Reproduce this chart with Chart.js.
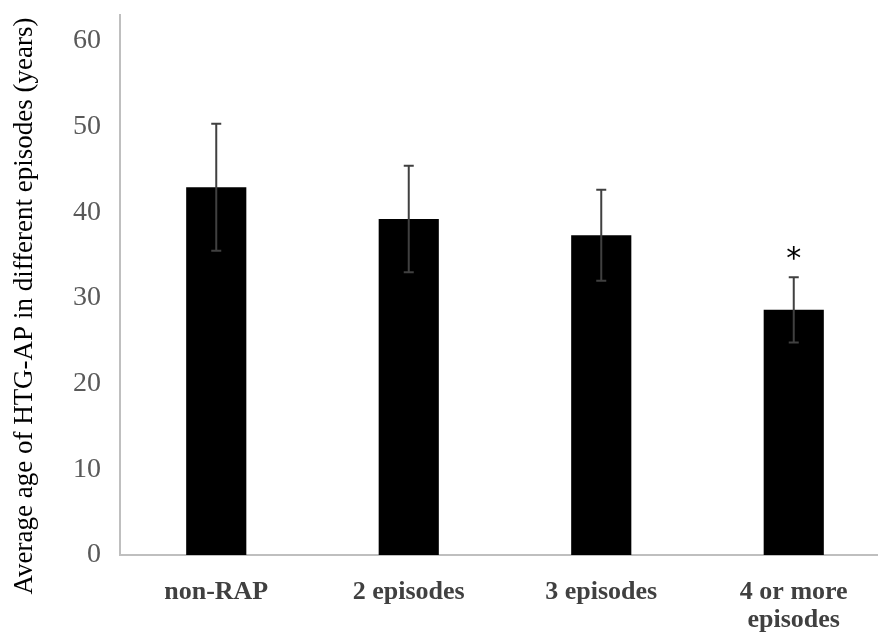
<!DOCTYPE html>
<html lang="en">
<head>
    <meta charset="UTF-8">
    <title>Average age of HTG-AP</title>
    <style>
        html, body {
            margin: 0;
            padding: 0;
            background: #fff;
            overflow: hidden;
        }
        .chart-container {
            position: relative;
            width: 890px;
            height: 633px;
        }
    </style>
    <script src="https://cdn.jsdelivr.net/npm/chart.js"></script>
</head>
<body>
    <div class="chart-container">
        <canvas id="ageChart"></canvas>
    </div>
    <script>
        const categories = ["non-RAP", "2 episodes", "3 episodes", ["4 or more", "episodes"]];
        const meanAge = [42.9, 39.2, 37.3, 28.6];
        const sdAge = [7.4, 6.2, 5.3, 3.8];
        const marks = ["", "", "", "*"];
        const yTicks = [0, 10, 20, 30, 40, 50, 60];
        const yTitle = "Average age of HTG-AP in different episodes (years)";

        const AXIS_COLOR = "#bfbfbf";
        const TEXT_COLOR = "#595959";

        // error bars + significance mark drawn on top of the bars
        const errorBars = {
            id: "errorBars",
            afterDatasetsDraw(chart) {
                const { ctx, scales } = chart;
                const meta = chart.getDatasetMeta(0);
                ctx.save();
                ctx.strokeStyle = "#404040";
                ctx.lineWidth = 2;
                meta.data.forEach((bar, i) => {
                    const x = bar.x;
                    const top = scales.y.getPixelForValue(meanAge[i] + sdAge[i]);
                    const bottom = scales.y.getPixelForValue(meanAge[i] - sdAge[i]);
                    ctx.beginPath();
                    ctx.moveTo(x, top);
                    ctx.lineTo(x, bottom);
                    ctx.moveTo(x - 5, top);
                    ctx.lineTo(x + 5, top);
                    ctx.moveTo(x - 5, bottom);
                    ctx.lineTo(x + 5, bottom);
                    ctx.stroke();
                    if (marks[i]) {
                        ctx.fillStyle = "#000";
                        ctx.font = "30px 'DejaVu Sans'";
                        ctx.textAlign = "center";
                        ctx.textBaseline = "middle";
                        ctx.fillText(marks[i], x, top - 17);
                    }
                });
                ctx.restore();
            }
        };

        // y title sits a little lower than the plot centre in the original
        const yAxisTitle = {
            id: "yAxisTitle",
            afterDraw(chart) {
                const { ctx } = chart;
                ctx.save();
                ctx.translate(25, 306);
                ctx.rotate(-Math.PI / 2);
                ctx.fillStyle = "#000";
                ctx.font = "27px 'Liberation Serif'";
                ctx.textAlign = "center";
                ctx.textBaseline = "middle";
                ctx.fillText(yTitle, 0, 0);
                ctx.restore();
            }
        };

        const ctx = document.getElementById("ageChart").getContext("2d");
        new Chart(ctx, {
            type: "bar",
            data: {
                labels: categories,
                datasets: [{
                    data: meanAge,
                    backgroundColor: "#000",
                    borderWidth: 0,
                    barPercentage: 0.625,
                    categoryPercentage: 0.5,
                }],
            },
            options: {
                responsive: true,
                maintainAspectRatio: false,
                animation: false,
                layout: { padding: { top: 15, right: 0, bottom: 0, left: 0 } },
                plugins: {
                    legend: { display: false },
                    tooltip: { enabled: false },
                },
                scales: {
                    x: {
                        afterFit(scale) {
                            scale.height = 78;
                        },
                        grid: { display: false, drawTicks: false },
                        border: { display: true, color: AXIS_COLOR, width: 2 },
                        ticks: {
                            color: "#404040",
                            padding: 23,
                            maxRotation: 0,
                            font: { family: "'Liberation Serif'", size: 26, weight: "bold", lineHeight: 1.08 },
                        },
                    },
                    y: {
                        min: 0,
                        max: 63,
                        afterBuildTicks(scale) {
                            scale.ticks = yTicks.map(v => ({ value: v }));
                        },
                        afterFit(scale) {
                            scale.width = 120;
                            scale.paddingTop = 0;
                            scale.paddingBottom = 0;
                        },
                        grid: { display: false, drawTicks: false },
                        border: { display: true, color: AXIS_COLOR, width: 2 },
                        ticks: {
                            color: TEXT_COLOR,
                            padding: 19,
                            font: { family: "'Liberation Serif'", size: 28 },
                        },
                    },
                },
            },
            plugins: [errorBars, yAxisTitle],
        });
    </script>
</body>
</html>
